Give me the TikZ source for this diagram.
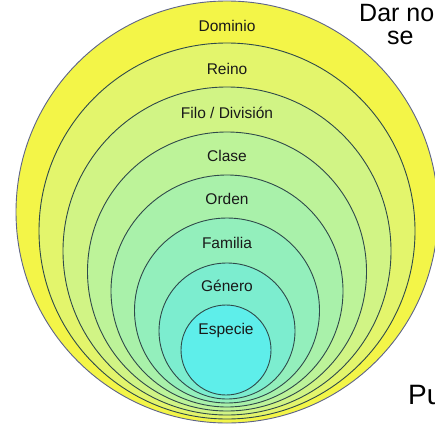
\documentclass[tikz,border=0pt]{standalone}
\usepackage{fontspec}
\setmainfont{Liberation Sans}
\definecolor{c1}{HTML}{F3F548}
\definecolor{c2}{HTML}{E3F56C}
\definecolor{c3}{HTML}{D1F485}
\definecolor{c4}{HTML}{BDF399}
\definecolor{c5}{HTML}{A9F1AA}
\definecolor{c6}{HTML}{93EFBC}
\definecolor{c7}{HTML}{7CEDCF}
\definecolor{c8}{HTML}{5EEEEA}
\definecolor{ringline}{HTML}{2F4A4A}
\definecolor{outerline}{HTML}{5E6488}
\tikzset{
  ring/.style={draw=ringline, line width=0.9pt},
  lbl/.style={font=\fontsize{15.5}{17}\selectfont, text=black!90, inner sep=0pt},
  slide/.style={font=\fontsize{25}{28}\selectfont, anchor=base west, inner sep=0pt},
}
\begin{document}
\begin{tikzpicture}[x=1pt,y=-1pt]
\useasboundingbox (0,0) rectangle (435,425);
\clip (0,0) rectangle (435,425);
\fill[white] (0,0) rectangle (435,425);
\draw[ring, fill=c1, draw=outerline] (227,212) circle[radius=211pt];
\draw[ring, fill=c2] (227,231) circle[radius=188pt];
\draw[ring, fill=c3] (227,251) circle[radius=164pt];
\draw[ring, fill=c4] (227,271.5) circle[radius=139.5pt];
\draw[ring, fill=c5] (227,291) circle[radius=116pt];
\draw[ring, fill=c6] (227,310.5) circle[radius=92.5pt];
\draw[ring, fill=c7] (227,331) circle[radius=68pt];
\draw[ring, fill=c8] (226,350) circle[radius=45pt];
\node[lbl] (dominio) at (227,26) {Dominio};
\node[lbl] (reino) at (227,69) {Reino};
\node[lbl] (filo) at (227,113) {Filo / División};
\node[lbl] (clase) at (227,156) {Clase};
\node[lbl] (orden) at (227,199) {Orden};
\node[lbl] (familia) at (227,243) {Familia};
\node[lbl] (genero) at (227,286) {Género};
\node[lbl] (especie) at (226,330) {Especie};
\node[slide] (t1) at (359,22) {Dar no};
\node[slide] (t2) at (387,45) {se};
\node[slide, font=\fontsize{28}{32}\selectfont] (t3) at (408,404) {Pu};
\end{tikzpicture}
\end{document}
